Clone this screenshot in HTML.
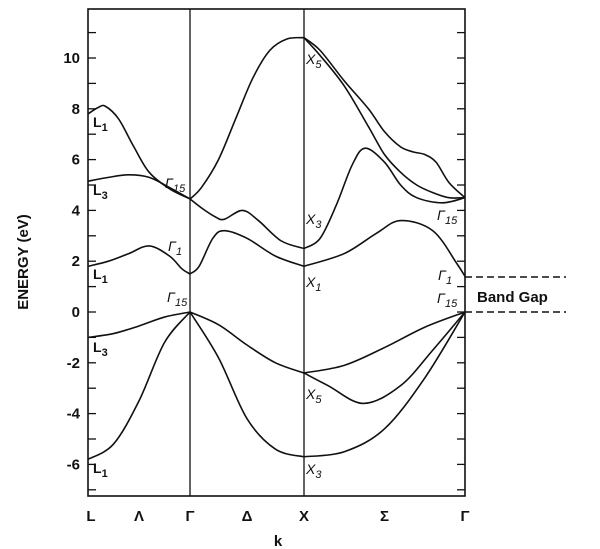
<!DOCTYPE html>
<html><head><meta charset="utf-8"><style>
body{margin:0;background:#fff;}
svg{display:block;font-family:"Liberation Sans",sans-serif;}
.t{font-size:15px;font-weight:bold;fill:#111;}
.lb{font-size:14px;fill:#111;}
</style></head><body>
<svg id="chart" width="600" height="549" viewBox="0 0 600 549">
<g id="axes"></g>
<g id="bands"></g>
<g id="labels"></g>
<text x="28" y="262" class="t" transform="rotate(-90 28 262)" text-anchor="middle" font-size="13">ENERGY (eV)</text>
<text x="278" y="546" class="t" text-anchor="middle">k</text>
<text x="477" y="302" class="t" font-size="13">Band Gap</text>
</svg>
<script>
const yTickLabels=[-6,-4,-2,0,2,4,6,8,10];
const kPointNames=["L","Λ","Γ","Δ","X","Σ","Γ"];
const kPointPos=[0,0.5,1,1.5,2,2.5,3];
const gapTop=1.38, gapBottom=0;
// bands: k coordinates and energies (eV)
const bandAk=[0,0.25,0.5,0.75,1,1.25,1.5,1.75,2,2.25,2.5,2.75,3];
const bandAE=[-5.8,-5.2,-3.5,-1.2,0,-1.8,-4.2,-5.4,-5.7,-5.5,-4.6,-2.6,0];
const bandBk=[0,0.25,0.5,0.75,1,1.25,1.5,1.75,2,2.25,2.5,2.75,3];
const bandBE=[-1.0,-0.85,-0.55,-0.2,0,-0.5,-1.3,-2.0,-2.4,-2.1,-1.4,-0.6,0];
const bandCk=[2,2.15,2.37,2.6,2.8,3];
const bandCE=[-2.4,-2.9,-3.6,-2.9,-1.5,0];
const bandDk=[0,0.2,0.4,0.6,0.8,0.92,1,1.08,1.2,1.3,1.5,1.75,2,2.25,2.45,2.6,2.8,2.95,3];
const bandDE=[1.8,2.0,2.3,2.6,2.2,1.7,1.5,1.8,2.9,3.2,2.9,2.2,1.8,2.3,3.1,3.6,3.2,1.9,1.4];
const bandEk=[0,0.2,0.4,0.6,0.8,1,1.1,1.22,1.3,1.46,1.6,1.8,2,2.1,2.2,2.3,2.38,2.5,2.6,2.7,2.86,3];
const bandEE=[5.15,5.3,5.4,5.3,4.9,4.45,4.1,3.75,3.65,4.0,3.6,2.8,2.5,2.9,4.2,5.8,6.45,5.9,5.0,4.5,4.3,4.5];
const bandFk=[0,0.1,0.17,0.3,0.45,0.6,0.8,1,1.1,1.25,1.4,1.55,1.7,1.85,2,2.1,2.25,2.4,2.5,2.6,2.68,2.75,2.82,2.9,3];
const bandFE=[7.8,8.05,8.1,7.6,6.5,5.5,4.85,4.45,4.9,6.0,7.6,9.2,10.3,10.75,10.8,10.3,9.1,8.0,7.1,6.5,6.3,6.2,5.9,5.1,4.5];
const bandGk=[2,2.1,2.25,2.4,2.5,2.6,2.7,2.8,2.9,3];
const bandGE=[10.8,10.1,8.9,7.3,6.2,5.5,5.0,4.7,4.5,4.5];

const NS="http://www.w3.org/2000/svg";
const nodeX=[88,190,304,465];
function xs(k){const i=Math.min(2,Math.floor(k));return nodeX[i]+(k-i)*(nodeX[i+1]-nodeX[i]);}
function ys(e){return 312-25.4*e;}
function mk(tag,attrs,parent){const el=document.createElementNS(NS,tag);for(const a in attrs)el.setAttribute(a,attrs[a]);parent.appendChild(el);return el;}
const axes=document.getElementById('axes');
const frame=mk('rect',{x:88,y:9,width:377,height:487,fill:'none',stroke:'#111','stroke-width':1.6},axes);


[1,2].forEach(i=>{const l=mk('line',{x1:xs(i),x2:xs(i),y1:9,y2:496,stroke:'#111','stroke-width':1.3},axes);

});
for(let e=-7;e<=11;e++){
 const l=mk('line',{x1:88,x2:96,y1:ys(e),y2:ys(e),stroke:'#111','stroke-width':1.3},axes);
 
 
 const r=mk('line',{x1:457,x2:465,y1:ys(e),y2:ys(e),stroke:'#111','stroke-width':1.3},axes);
 
 
}
yTickLabels.forEach(v=>{const t=mk('text',{x:80,y:ys(v)+5,'text-anchor':'end',class:'t'},axes);t.textContent=v;

});
kPointNames.forEach((n,i)=>{const t=mk('text',{x:xs(kPointPos[i])+(i==0?3:0),y:521,'text-anchor':'middle',class:'t',font:''},axes);t.textContent=n;

});
[gapTop,gapBottom].forEach(e=>{const l=mk('line',{x1:465,x2:566,y1:ys(e),y2:ys(e),stroke:'#111','stroke-width':1.5,'stroke-dasharray':'7 4'},axes);

});
function pathFor(ks,es){
 const segs=[];let cur=[];
 for(let i=0;i<ks.length;i++){cur.push([xs(ks[i]),ys(es[i])]);if(i>0&&i<ks.length-1&&Number.isInteger(ks[i])){segs.push(cur);cur=[[xs(ks[i]),ys(es[i])]];}}
 segs.push(cur);let d='';
 segs.forEach(p=>{d+='M'+p[0][0]+','+p[0][1];
  for(let i=0;i<p.length-1;i++){const p0=p[Math.max(0,i-1)],p1=p[i],p2=p[i+1],p3=p[Math.min(p.length-1,i+2)];
   const c1=[p1[0]+(p2[0]-p0[0])/6,p1[1]+(p2[1]-p0[1])/6],c2=[p2[0]-(p3[0]-p1[0])/6,p2[1]-(p3[1]-p1[1])/6];
   d+='C'+c1[0]+','+c1[1]+' '+c2[0]+','+c2[1]+' '+p2[0]+','+p2[1];}});
 return d;}
const bands=document.getElementById('bands');
[[bandAk,bandAE,'band-valence-1'],[bandBk,bandBE,'band-valence-2'],[bandCk,bandCE,'band-valence-3'],[bandDk,bandDE,'band-conduction-1'],[bandEk,bandEE,'band-conduction-2'],[bandFk,bandFE,'band-conduction-3'],[bandGk,bandGE,'band-conduction-4']].forEach(b=>{
 const p=mk('path',{d:pathFor(b[0],b[1]),fill:'none',stroke:'#111','stroke-width':1.6},bands);
 
 });
const labs=[["L","1",93,127],["L","3",93,195],["L","1",93,279],["L","3",93,352],["L","1",93,473],
["Γ","15",165,188],["Γ","1",168,251],["Γ","15",167,302],
["X","5",306,64],["X","3",306,224],["X","1",306,287],["X","5",306,399],["X","3",306,474],
["Γ","15",437,220],["Γ","1",438,280],["Γ","15",437,303]];
const lg=document.getElementById('labels');
labs.forEach(l=>{const t=mk('text',{x:l[2],y:l[3],class:'lb','font-style':l[0]=='L'?'normal':'italic','font-weight':l[0]=='L'?'bold':'normal'},lg);
 t.textContent=l[0];const s=mk('tspan',{dy:4,'font-size':11},t);s.textContent=l[1];
 
 });
</script>
</body></html>
